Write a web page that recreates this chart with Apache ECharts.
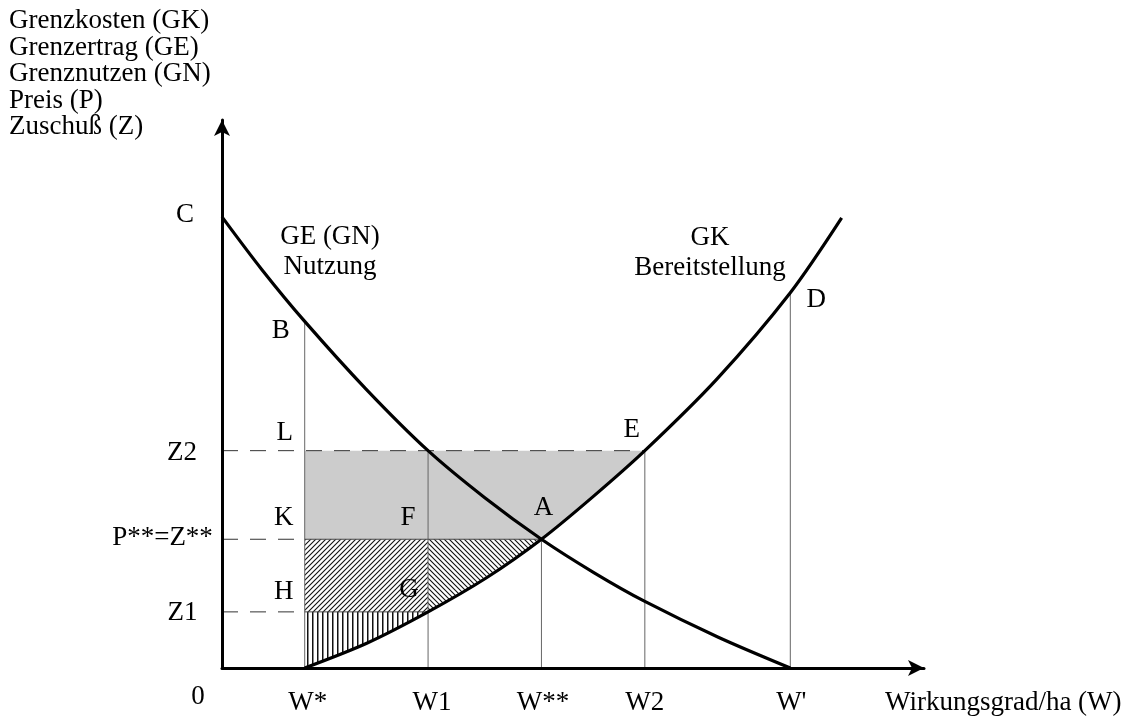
<!DOCTYPE html>
<html><head><meta charset="utf-8">
<script src="https://cdn.jsdelivr.net/npm/echarts@6/dist/echarts.min.js"></script>
<style>html,body{margin:0;padding:0;background:#fff}#c{width:1125px;height:720px}</style>
</head><body><div id="c"></div>
<script>
// GE (GN) curve – "Nutzung" (falling)
const geX = [0, 5.6, 11.6, 20.2, 28.9, 36.9, 44.8, 52.2, 59.3, 69.6, 79.7];
const geY = [82.0, 72.4, 63.0, 50.7, 39.5, 30.9, 23.4, 17.3, 12.1, 5.6, 0];
// GK curve – "Bereitstellung" (rising)
const gkX = [11.6, 20.3, 28.9, 37.1, 44.8, 52.0, 59.3, 69.4, 79.7, 86.9];
const gkY = [0, 4.5, 10.2, 16.4, 23.4, 31.1, 39.5, 52.5, 68.2, 81.8];
// x-axis marks
const wNames = ['W*', 'W1', 'W**', 'W2', "W'"];
const wValues = [11.6, 28.9, 44.8, 59.3, 79.7];
const wTops = [63.0, 39.5, 23.4, 39.5, 68.2];   // height of each drop line
// y-axis marks
const zNames = ['Z1', 'P**=Z**', 'Z2'];
const zValues = [10.2, 23.4, 39.5];
const cValue = 82.0;
const pointNames = ['C', 'B', 'L', 'K', 'H', 'F', 'G', 'A', 'E', 'D'];
const yTitle = ['Grenzkosten (GK)', 'Grenzertrag (GE)', 'Grenznutzen (GN)', 'Preis (P)', 'Zuschuß (Z)'];
const xTitle = 'Wirkungsgrad/ha (W)';

const FONT = '27px "Liberation Serif", "Times New Roman", serif';
const [Ws, W1, Wss, W2, Wp] = wValues;
const [Z1, P, Z2] = zValues;

function pat(kind) {
  const s = 5, c = document.createElement('canvas');
  c.width = s; c.height = s;
  const g = c.getContext('2d');
  g.fillStyle = '#fff'; g.fillRect(0, 0, s, s);
  g.strokeStyle = '#111'; g.fillStyle = '#111'; g.lineWidth = 1.1;
  g.beginPath();
  if (kind === 'slash') {
    g.moveTo(-1, s + 1); g.lineTo(s + 1, -1);
    g.moveTo(-1, 1); g.lineTo(1, -1);
    g.moveTo(s - 1, s + 1); g.lineTo(s + 1, s - 1);
    g.stroke();
  } else if (kind === 'back') {
    g.moveTo(-1, -1); g.lineTo(s + 1, s + 1);
    g.moveTo(s - 1, -1); g.lineTo(s + 1, 1);
    g.moveTo(-1, s - 1); g.lineTo(1, s + 1);
    g.stroke();
  } else {
    g.fillRect(2, 0, 1.5, s);
  }
  return { image: c, repeat: 'repeat' };
}
function gk(from, to) {
  const a = gkX.indexOf(from), b = gkX.indexOf(to), out = [];
  const step = a <= b ? 1 : -1;
  for (let i = a; ; i += step) { out.push([gkX[i], gkY[i]]); if (i === b) break; }
  return out;
}
const regions = [
  { pts: [[Ws, Z2], [W2, Z2], ...gk(W2, Wss), [Ws, P]], fill: '#cccccc' },
  { pts: [[Ws, Z1], [W1, Z1], [W1, P], [Ws, P]], fill: pat('slash') },
  { pts: [[W1, P], [Wss, P], ...gk(Wss, W1)], fill: pat('back') },
  { pts: [...gk(Ws, W1), [Ws, Z1]], fill: pat('vert') }
];
const guides = [];
wValues.forEach((w, i) => guides.push({ a: [w, 0], b: [w, wTops[i]], stroke: '#666', dash: null }));
guides.push({ a: [0, Z1], b: [Ws, Z1], stroke: '#333', dash: [16, 12] });
guides.push({ a: [0, P], b: [Ws, P], stroke: '#333', dash: [16, 12] });
guides.push({ a: [0, Z2], b: [W2, Z2], stroke: '#333', dash: [16, 12] });
guides.push({ a: [Ws, Z1], b: [W1, Z1], stroke: '#444', dash: null });
guides.push({ a: [Ws, P], b: [Wss, P], stroke: '#444', dash: null });

const anchors = {
  C: [0, cValue], B: [Ws, wTops[0]], L: [Ws, Z2], K: [Ws, P], H: [Ws, Z1],
  F: [W1, P], G: [W1, Z1], A: [Wss, P], E: [W2, Z2], D: [Wp, wTops[4]]
};
const offs = {
  C: [-37, -2], B: [-24, 10], L: [-20, -18], K: [-21, -21], H: [-21, -20],
  F: [-20, -21], G: [-19, -22], A: [2, -31], E: [-13, -21], D: [26, 7]
};
const texts = [];
pointNames.forEach(n => texts.push({ t: n, at: anchors[n], d: offs[n] }));
const wdx = [3, 4, 1.5, 0, 1];
wNames.forEach((n, i) => texts.push({ t: n, at: [wValues[i], 0], d: [wdx[i], 35] }));
const zdx = [[-39.5, 1], [-59.5, -1.5], [-40, 2]];
zNames.forEach((n, i) => texts.push({ t: n, at: [0, zValues[i]], d: zdx[i] }));
texts.push({ t: '0', at: [0, 0], d: [-24, 29] });

const chart = echarts.init(document.getElementById('c'));
chart.setOption({
  animation: false,
  backgroundColor: '#fff',
  grid: { left: 222, right: 201, top: 120, bottom: 52 },
  xAxis: {
    type: 'value', min: 0, max: 98.45, splitLine: { show: false },
    axisTick: { show: false }, axisLabel: { show: false },
    axisLine: { show: true, symbol: ['none', 'arrow'], symbolSize: [12, 16], lineStyle: { color: '#000', width: 3 } },
    z: 10
  },
  yAxis: {
    type: 'value', min: 0, max: 99.6, splitLine: { show: false },
    axisTick: { show: false }, axisLabel: { show: false },
    axisLine: { show: true, symbol: ['none', 'arrow'], symbolSize: [12, 16], lineStyle: { color: '#000', width: 3 } },
    z: 10
  },
  graphic: [
    { type: 'text', x: 9, y: 8, style: { text: yTitle.join('\n'), font: FONT, fill: '#000', lineHeight: 26.5, align: 'left', verticalAlign: 'top' } },
    { type: 'text', x: 885, y: 703, style: { text: xTitle, font: FONT, fill: '#000', align: 'left', verticalAlign: 'middle' } },
    { type: 'text', x: 330, y: 252, style: { text: 'GE (GN)\nNutzung', font: FONT, fill: '#000', lineHeight: 30, align: 'center', verticalAlign: 'middle' } },
    { type: 'text', x: 710, y: 253, style: { text: 'GK\nBereitstellung', font: FONT, fill: '#000', lineHeight: 30, align: 'center', verticalAlign: 'middle' } }
  ],
  series: [
    {
      type: 'custom', name: 'areas', z: 1, silent: true,
      data: regions.map((r, i) => [i, 0]),
      renderItem: (params, api) => {
        const r = regions[params.dataIndex];
        return { type: 'polygon', shape: { points: r.pts.map(p => api.coord(p)) }, style: { fill: r.fill } };
      }
    },
    {
      type: 'custom', name: 'guides', z: 2, silent: true,
      data: guides.map((g, i) => [i, 0]),
      renderItem: (params, api) => {
        const g = guides[params.dataIndex];
        const a = api.coord(g.a), b = api.coord(g.b);
        return { type: 'line', shape: { x1: a[0], y1: a[1], x2: b[0], y2: b[1] }, style: { stroke: g.stroke, lineWidth: 1, lineDash: g.dash || null } };
      }
    },
    {
      type: 'line', name: 'GE', z: 3, silent: true, smooth: 0.3, symbol: 'none',
      data: geX.map((x, i) => [x, geY[i]]),
      lineStyle: { color: '#000', width: 3.2 }
    },
    {
      type: 'line', name: 'GK', z: 3, silent: true, smooth: 0.3, symbol: 'none',
      data: gkX.map((x, i) => [x, gkY[i]]),
      lineStyle: { color: '#000', width: 3.2 }
    },
    {
      type: 'custom', name: 'labels', z: 5, silent: true, clip: false,
      data: texts.map((t, i) => [i, 0]),
      renderItem: (params, api) => {
        const t = texts[params.dataIndex];
        const p = api.coord(t.at);
        return { type: 'text', x: p[0] + t.d[0], y: p[1] + t.d[1], style: { text: t.t, font: FONT, fill: '#000', align: 'center', verticalAlign: 'middle' } };
      }
    }
  ]
});
</script>
</body></html>
